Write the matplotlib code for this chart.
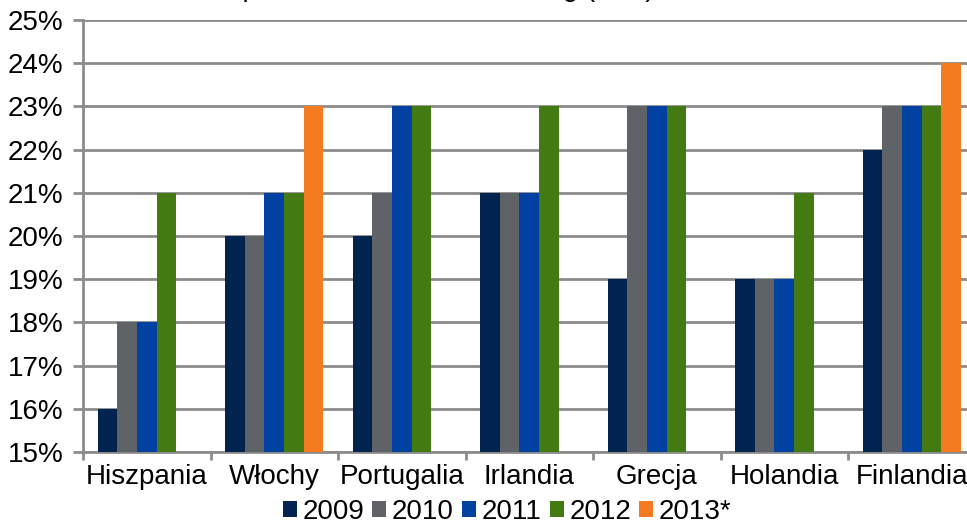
import matplotlib.pyplot as plt
import numpy as np

plt.rcParams['font.family'] = ['Liberation Sans', 'DejaVu Sans']

kraje = ['Hiszpania', 'Włochy', 'Portugalia', 'Irlandia', 'Grecja', 'Holandia', 'Finlandia']
lata = ['2009', '2010', '2011', '2012', '2013*']

# stawki VAT [%], brak danych za 2013 -> nan
v_2009 = [16, 20, 20, 21, 19, 19, 22]
v_2010 = [18, 20, 21, 21, 23, 19, 23]
v_2011 = [18, 21, 23, 21, 23, 19, 23]
v_2012 = [21, 21, 23, 23, 23, 21, 23]
v_2013 = [np.nan, 23, np.nan, np.nan, np.nan, np.nan, 24]

kolory = ['#00234f', '#5f6367', '#0041a1', '#437a11', '#f47b20']
serie = [v_2009, v_2010, v_2011, v_2012, v_2013]

fig = plt.figure(figsize=(9.67, 5.24), dpi=100)
ax = fig.add_axes([83/967, 1 - 452/524, 892.5/967, 432/524])

x = np.arange(len(kraje))
szer = 0.154
for i, (s, k, rok) in enumerate(zip(serie, kolory, lata)):
    ax.bar(x + (i - 2)*szer, s, szer, color=k, label=rok, zorder=3)

ax.set_xlim(-0.5, len(kraje) - 0.5)
ax.set_ylim(15, 25)
ax.set_yticks(np.arange(15, 26))
ax.set_yticklabels([f'{v}%' for v in range(15, 26)])
ax.grid(True, axis='y', color='#8c8c8c', linewidth=2, zorder=0)

ax.set_xticks(x)
ax.set_xticklabels(kraje)
ax.set_xticks(np.arange(-0.5, len(kraje)), minor=True)
ax.tick_params(axis='x', which='major', length=0, pad=9, labelsize=20)
ax.tick_params(axis='x', which='minor', length=6, width=2, color='#8c8c8c')
ax.tick_params(axis='y', length=7, width=2, color='#8c8c8c', pad=7, labelsize=20)

for s in ['top', 'right']:
    ax.spines[s].set_visible(False)
for s in ['left', 'bottom']:
    ax.spines[s].set_color('#8c8c8c')
    ax.spines[s].set_linewidth(2)

# tytuł wystaje ponad górną krawędź
fig.text(655/967, 1 + 4/524, 'Stawki podatku od towarów i usług (VAT)',
         ha='right', va='baseline', fontsize=20)

fig.legend(loc='center', bbox_to_anchor=(507/967, 1 - 512/524), ncol=5,
           frameon=False, fontsize=20, handlelength=0.5, handleheight=0.5,
           handletextpad=0.2, columnspacing=0.3, borderaxespad=0)

fig.savefig('out.png', dpi=100)
